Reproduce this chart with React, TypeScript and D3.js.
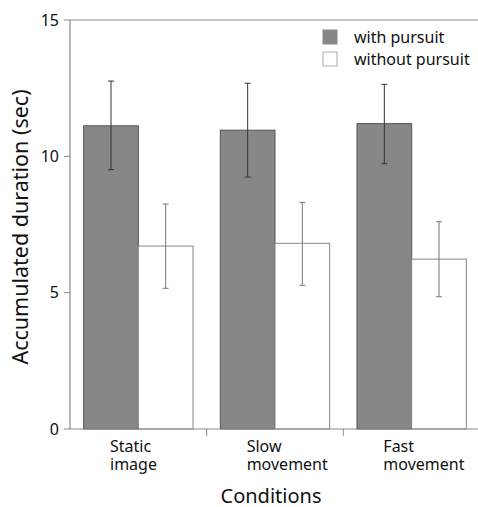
import React from "react";
import * as d3 from "d3";

const categories = [["Static", "image"], ["Slow", "movement"], ["Fast", "movement"]];
const seriesNames = ["with pursuit", "without pursuit"];
const withMean = [11.12, 10.96, 11.2];
const withLow = [9.51, 9.24, 9.73];
const withHigh = [12.76, 12.68, 12.64];
const withoutMean = [6.71, 6.81, 6.23];
const withoutLow = [5.16, 5.27, 4.85];
const withoutHigh = [8.25, 8.31, 7.6];
const yTicks = [0, 5, 10, 15];

const W = 478, H = 507;
const left = 70, right = 480, top = 20, bottom = 429;
const font = "'Noto Sans', sans-serif";

export default function App() {
  const x = d3.scaleBand<number>().domain([0, 1, 2]).range([left, right]);
  const inner = d3.scaleBand<number>().domain([0, 1]).range([0, x.bandwidth()]).paddingInner(0).paddingOuter(0.25);
  const y = d3.scaleLinear().domain([0, 15]).range([bottom, top]);
  const series = [
    { mean: withMean, lo: withLow, hi: withHigh, fill: "#878787", stroke: "#555", err: "#333" },
    { mean: withoutMean, lo: withoutLow, hi: withoutHigh, fill: "#ffffff", stroke: "#888", err: "#777" },
  ];
  const axisColor = "#8a8a8a";
  return (
    <svg width={W} height={H} style={{ position: "absolute", left: 0, top: 0 }}>
      <rect width={W} height={H} fill="#fff" />
      {series.map((s, si) =>
        categories.map((_, ci) => {
          const bx = (x(ci) as number) + (inner(si) as number);
          const bw = inner.bandwidth();
          const cx = bx + bw / 2;
          return (
            <g key={`${si}-${ci}`}>
              <rect x={bx} y={y(s.mean[ci])} width={bw} height={y(0) - y(s.mean[ci])} fill={s.fill} stroke={s.stroke} strokeWidth={1} />
              <line x1={cx} x2={cx} y1={y(s.lo[ci])} y2={y(s.hi[ci])} stroke={s.err} strokeWidth={1} />
              <line x1={cx - 3} x2={cx + 3} y1={y(s.lo[ci])} y2={y(s.lo[ci])} stroke={s.err} strokeWidth={1} />
              <line x1={cx - 3} x2={cx + 3} y1={y(s.hi[ci])} y2={y(s.hi[ci])} stroke={s.err} strokeWidth={1} />
            </g>
          );
        })
      )}
      {/* axes */}
      <line x1={left} x2={left} y1={top} y2={bottom} stroke={axisColor} strokeWidth={1.2} />
      <line x1={left} x2={W} y1={top} y2={top} stroke={axisColor} strokeWidth={1.2} />
      <line x1={left} x2={W} y1={bottom} y2={bottom} stroke={axisColor} strokeWidth={1.2} />
      {yTicks.map((t) => (
        <g key={t}>
          <line x1={left - 6} x2={left} y1={y(t)} y2={y(t)} stroke={axisColor} strokeWidth={1} />
          <text x={left - 11} y={y(t)} dy="0.36em" textAnchor="end" fontFamily={font} fontSize={16} fill="#111">{t}</text>
        </g>
      ))}
      {[1, 2].map((i) => (
        <line key={i} x1={x(i) as number} x2={x(i) as number} y1={bottom} y2={bottom + 7} stroke={axisColor} strokeWidth={1} />
      ))}
      {categories.map((lines, i) =>
        lines.map((l, j) => (
          <text key={`${i}-${j}`} x={(x(i) as number) + 40} y={451.5 + j * 18.5} fontFamily={font} fontSize={16} fill="#111">{l}</text>
        ))
      )}
      <text x={271} y={503} textAnchor="middle" fontFamily={font} fontSize={20} fill="#111">Conditions</text>
      <text transform={`translate(28,227) rotate(-90)`} textAnchor="middle" fontFamily={font} fontSize={21.5} fill="#111">Accumulated duration (sec)</text>
      {/* legend */}
      {seriesNames.map((n, i) => (
        <g key={n} transform={`translate(323,${30 + i * 22})`}>
          <rect x={0} y={0} width={14} height={14} fill={series[i].fill} stroke={i === 0 ? "#888" : "#aaa"} strokeWidth={1} />
          <text x={31} y={7} dy="0.36em" fontFamily={font} fontSize={16} fill="#111">{n}</text>
        </g>
      ))}
    </svg>
  );
}
